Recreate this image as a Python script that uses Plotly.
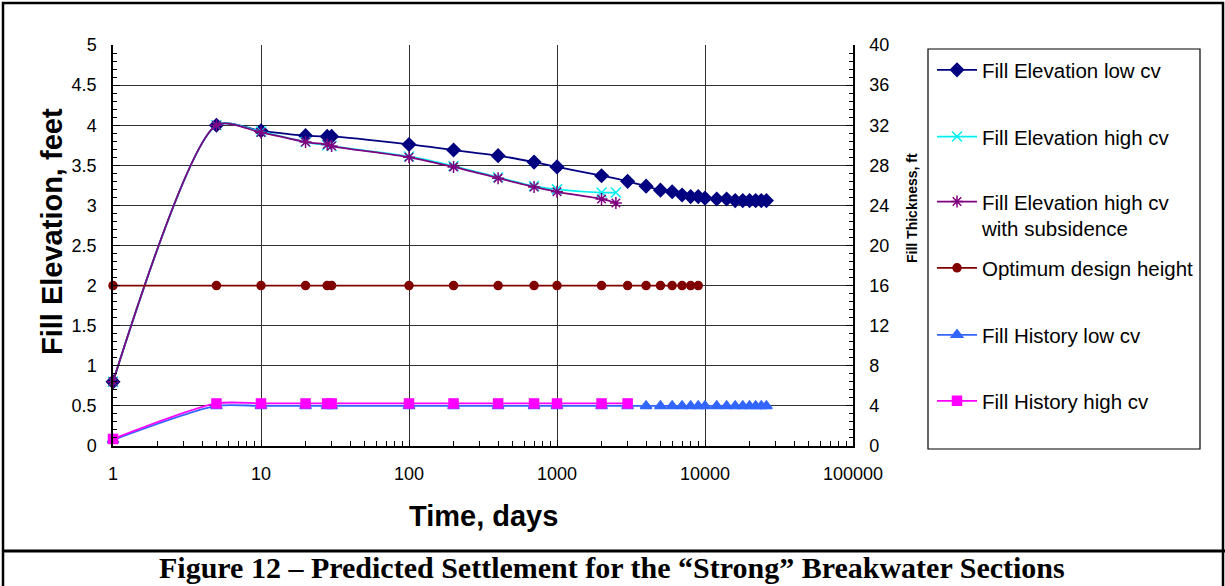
import plotly.graph_objects as go

# ---------------- data ----------------
t_low = [1, 5, 10, 20, 28, 30, 100, 200, 400, 700, 1000, 2000, 3000, 4000, 5000, 6000,
         7000, 8000, 9000, 10000, 12000, 14000, 16000, 18000, 20000, 22000, 24000, 26000]
elev_low = [0.8, 4.0, 3.93, 3.87, 3.86, 3.86, 3.76, 3.69, 3.62, 3.54, 3.48, 3.37, 3.30, 3.24,
            3.19, 3.17, 3.13, 3.11, 3.11, 3.09, 3.08, 3.08, 3.06, 3.06, 3.06, 3.06, 3.06, 3.06]

t_high = [1, 5, 10, 20, 28, 30, 100, 200, 400, 700, 1000, 2000, 2500]
elev_high = [0.8, 4.0, 3.92, 3.79, 3.75, 3.74, 3.61, 3.49, 3.35, 3.24, 3.20, 3.16, 3.16]
elev_sub = [0.8, 4.0, 3.91, 3.79, 3.76, 3.74, 3.60, 3.48, 3.34, 3.23, 3.17, 3.08, 3.03]

t_opt = [1, 5, 10, 20, 28, 30, 100, 200, 400, 700, 1000, 2000, 3000, 4000, 5000, 6000,
         7000, 8000, 9000]
opt_height = [2.0, 2.0, 2.0, 2.0, 2.0, 2.0, 2.0, 2.0, 2.0, 2.0, 2.0, 2.0, 2.0, 2.0, 2.0,
              2.0, 2.0, 2.0, 2.0]

# fill history (thickness, ft, right axis)
hist_low = [0.6, 4.0, 4.0, 4.0, 4.0, 4.0, 4.0, 4.0, 4.0, 4.0, 4.0, 4.0, 4.0, 4.0, 4.0, 4.0,
            4.0, 4.0, 4.0, 4.0, 4.0, 4.0, 4.0, 4.0, 4.0, 4.0, 4.0, 4.0]
t_hist_high = [1, 5, 10, 20, 28, 30, 100, 200, 400, 700, 1000, 2000, 3000]
hist_high = [0.7, 4.25, 4.25, 4.25, 4.25, 4.25, 4.25, 4.25, 4.25, 4.25, 4.25, 4.25, 4.25]

x_tickvals = [1, 10, 100, 1000, 10000, 100000]
x_ticktext = ["1", "10", "100", "1000", "10000", "100000"]
y_tickvals = [0, 0.5, 1, 1.5, 2, 2.5, 3, 3.5, 4, 4.5, 5]
y_ticktext = ["0", "0.5", "1", "1.5", "2", "2.5", "3", "3.5", "4", "4.5", "5"]
y2_tickvals = [0, 4, 8, 12, 16, 20, 24, 28, 32, 36, 40]

names = ["Fill Elevation low cv", "Fill Elevation high cv",
         "Fill Elevation high cv<br>with subsidence", "Optimum design height",
         "Fill History low cv", "Fill History high cv"]

# ---------------- layout helpers ----------------
W, H = 1225, 586
L, R, T, B = 113, 853, 45, 446


def fx(px):
    return (px - L) / (R - L)


def fy(py):
    return (B - py) / (B - T)


ARIAL = "Liberation Sans, Arial, sans-serif"

fig = go.Figure()

styles = [
    dict(color="#000080", symbol="diamond", size=10, yaxis="y"),
    dict(color="#00F0F0", symbol="x-thin-open", size=10, yaxis="y"),
    dict(color="#800080", symbol="asterisk-open", size=10, yaxis="y"),
    dict(color="#800000", symbol="circle", size=8, yaxis="y"),
    dict(color="#3366FF", symbol="triangle-up", size=10, yaxis="y2"),
    dict(color="#FF00FF", symbol="square", size=9, yaxis="y2"),
]
xs = [t_low, t_high, t_high, t_opt, t_low, t_hist_high]
ys = [elev_low, elev_high, elev_sub, opt_height, hist_low, hist_high]
legend_ids = ["legend", "legend2", "legend3", "legend4", "legend5", "legend6"]

for i in range(6):
    s = styles[i]
    fig.add_trace(go.Scatter(
        x=xs[i], y=ys[i], name=names[i], mode="lines+markers",
        yaxis=s["yaxis"], legend=legend_ids[i],
        line=dict(color=s["color"], width=1.8, shape="spline", smoothing=0.75),
        marker=dict(symbol=s["symbol"], size=s["size"], color=s["color"],
                    line=dict(color=s["color"], width=1.5)),
        cliponaxis=False,
    ))

legend_centers = [70, 136.7, 201.7, 268, 335, 401]
leg_common = dict(bgcolor="rgba(0,0,0,0)", borderwidth=0, itemwidth=40,
                  font=dict(family=ARIAL, size=20.5, color="black"),
                  xanchor="left", x=fx(932))
layout_legends = {}
for i, lid in enumerate(legend_ids):
    d = dict(leg_common)
    if i == 2:
        d.update(y=fy(legend_centers[i] - 20), yanchor="top", valign="top")
    else:
        d.update(y=fy(legend_centers[i]), yanchor="middle")
    layout_legends[lid] = d

fig.update_layout(
    width=W, height=H,
    margin=dict(l=L, r=W - R, t=T, b=H - B),
    paper_bgcolor="white", plot_bgcolor="white",
    showlegend=True,
    xaxis=dict(
        type="log", range=[0, 5],
        tickvals=x_tickvals, ticktext=x_ticktext,
        tickfont=dict(family=ARIAL, size=18, color="black"),
        ticks="inside", ticklen=6, tickcolor="black", ticklabelstandoff=11,
        showgrid=True, gridcolor="#303030", gridwidth=1,
        showline=True, linecolor="black", linewidth=1.5,
        minor=dict(ticks="inside", ticklen=5, tickcolor="black", dtick="D1", showgrid=False),
        zeroline=False,
    ),
    yaxis=dict(
        range=[0, 5], tickvals=y_tickvals, ticktext=y_ticktext,
        tickfont=dict(family=ARIAL, size=18, color="black"),
        ticks="inside", ticklen=7, tickcolor="black", ticklabelstandoff=11,
        showgrid=True, gridcolor="#303030", gridwidth=1,
        showline=True, linecolor="black", linewidth=1.5,
        minor=dict(ticks="inside", ticklen=4, tickcolor="black", dtick=0.1, showgrid=False),
        zeroline=False,
    ),
    yaxis2=dict(
        overlaying="y", side="right", range=[0, 40],
        tickvals=y2_tickvals,
        tickfont=dict(family=ARIAL, size=18, color="black"),
        ticks="inside", ticklen=7, tickcolor="black", ticklabelstandoff=11,
        showgrid=False, showline=True, linecolor="black", linewidth=1.5,
        minor=dict(ticks="inside", ticklen=4, tickcolor="black", dtick=0.8),
        zeroline=False,
    ),
    **layout_legends,
)

# legend frame and outer frames
fig.add_shape(type="rect", xref="paper", yref="paper",
              x0=fx(928), x1=fx(1200), y0=fy(449), y1=fy(49),
              line=dict(color="black", width=1.2), layer="above")
fig.add_shape(type="rect", xref="paper", yref="paper",
              x0=fx(3), x1=fx(1223), y0=fy(600), y1=fy(3),
              line=dict(color="black", width=2.5), layer="above")
fig.add_shape(type="line", xref="paper", yref="paper",
              x0=fx(3), x1=fx(1225), y0=fy(551), y1=fy(551),
              line=dict(color="black", width=3), layer="above")

# axis titles
ann_common = dict(xref="paper", yref="paper", showarrow=False,
                  xanchor="center", yanchor="middle")
fig.add_annotation(text="<b>Fill Elevation, feet</b>", x=fx(52), y=fy(232), textangle=-90,
                   font=dict(family=ARIAL, size=29, color="black"), **ann_common)
fig.add_annotation(text="<b>Time, days</b>", x=fx(483), y=fy(516),
                   font=dict(family=ARIAL, size=29, color="black"), **ann_common)
fig.add_annotation(text="<b>Fill Thickness, ft</b>", x=fx(912), y=fy(208), textangle=-90,
                   font=dict(family=ARIAL, size=14, color="black"), **ann_common)
fig.add_annotation(text="<b>Figure 12 – Predicted Settlement for the “Strong” Breakwater Sections</b>",
                   x=fx(612), y=fy(567),
                   font=dict(family="Liberation Serif, Times New Roman, serif", size=30, color="black"),
                   **ann_common)

fig.write_html("out.html")
